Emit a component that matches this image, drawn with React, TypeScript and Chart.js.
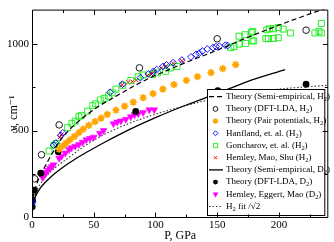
import React, { useEffect, useRef } from 'react';
import { Chart, registerables } from 'chart.js';
import { drawPoint } from 'chart.js/helpers';

Chart.register(...registerables);

const FONT = '"Liberation Serif", "DejaVu Serif", "Times New Roman", serif';

const xTickVals = [0, 50, 100, 150, 200];
const yTickVals = [0, 500, 1000];

// Theory (Semi-empirical, H2) - dashed
const semiH2P = [0, 0.5, 1, 2, 4, 7, 10, 14, 18, 22, 30, 38, 46, 55, 66, 80, 95, 110, 125, 150, 175, 200, 225, 240];
const semiH2V = [60, 95, 120, 150, 195, 245, 285, 338, 388, 435, 502, 555, 600, 645, 690, 748, 803, 850, 895, 965, 1040, 1110, 1175, 1212];

// Theory (DFT-LDA, H2) - open circles
const dftH2P = [0.5, 2.1, 7.7, 22, 87, 150, 222];
const dftH2V = [128, 221, 360, 533, 863, 1031, 1081];

// Theory (Pair potentials, H2) - stars
const pairH2P = [22, 25, 27.5, 30.7, 34.4, 38, 41.5, 46, 51, 56, 61, 68, 75, 82, 90, 98, 106, 115, 125, 134, 145, 154.5, 165];
const pairH2V = [392, 412, 428, 446, 466, 488, 508, 530, 552, 572, 594, 618, 642, 665, 690, 714, 740, 766, 790, 812, 835, 858, 882];

// Hanfland, et. al. (H2) - diamonds
const hanP = [0, 0.3, 17.5, 19.3, 23.2, 24.9, 63.2, 73.3, 87.8, 94.2, 98.4, 101, 106, 109, 114.3, 121.4, 128.7, 132.8, 135.4, 138, 142, 146.6, 149, 151.8, 156.6, 158.5];
const hanV = [78, 90, 416, 428, 472, 487, 722, 768, 806, 828, 843, 853, 871, 880, 893, 908, 926, 941, 948, 960, 972, 980, 986, 988, 994, 992];

// Goncharov, et. al. (H2) - squares
const goncP = [13.8, 17.7, 19.6, 28.8, 32.3, 35, 38, 40, 45, 49.2, 51.5, 55.3, 58.5, 62, 65, 68, 73.5, 80, 86, 90, 97.6, 101.6, 108.2, 112, 117.5,
  161, 163.7, 167.7, 173, 178.3, 179.6, 189.4, 191.5, 195.5, 199.5, 167.7, 172.5, 177.8, 178.8, 190.2, 192.3, 195.5, 199.5, 203.4, 209.3, 229.1, 232.5, 234.4, 234.4];
const goncV = [382, 415, 425, 517, 542, 555, 580, 588, 612, 644, 655, 677, 686, 700, 718, 740, 762, 790, 812, 822, 825, 834, 843, 862, 871,
  980, 987, 1000, 1004, 1019, 1019, 1032, 1032, 1033, 1037, 1046, 1055, 1068, 1074, 1083, 1089, 1089, 1096, 1087, 1065, 1065, 1074, 1065, 1120];

// Hemley, Mao, Shu (H2) - crosses
const hmsP = [22.5, 24, 73, 77.8, 81.2, 84.4, 93.7, 96.3, 98.9, 104.8, 108.2, 114.3, 121.4];
const hmsV = [462, 478, 765, 779, 784, 792, 820, 828, 839, 862, 871, 889, 904];

// Theory (Semi-empirical, D2) - solid
const semiD2P = [0, 0.5, 1, 2, 4, 7, 10, 15, 20, 30, 40, 50, 60, 80, 100, 125, 150, 175, 205];
const semiD2V = [35, 60, 80, 105, 135, 170, 195, 230, 260, 312, 357, 398, 437, 510, 575, 648, 715, 785, 853];

// Theory (DFT-LDA, D2) - filled circles
const dftD2P = [0.2, 0.5, 1.9, 7.1, 21.2, 84, 150.5, 222];
const dftD2V = [59, 96, 155, 253, 377, 611, 731, 768];

// Hemley, Eggert, Mao (D2) - triangles
const hemP = [8.5, 10, 11.5, 13, 14.5, 16, 17.5, 22, 24, 27, 30, 32, 35, 38, 41, 44, 47, 50, 55, 58, 66, 69, 72, 76, 80, 83, 86, 90, 95, 99];
const hemV = [228, 245, 258, 270, 282, 292, 302, 340, 352, 370, 390, 400, 410, 420, 432, 447, 455, 462, 484, 500, 540, 550, 556, 565, 580, 592, 598, 604, 620, 620];

// H2 fit / sqrt2 - dotted
const fitP = [0, 0.5, 1, 2, 3, 6, 10, 15, 20, 30, 40, 50, 60, 80, 100, 125, 150, 175, 200, 220, 240];
const fitV = [45, 80, 100, 125, 143, 182, 222, 262, 292, 345, 398, 443, 483, 545, 595, 645, 688, 718, 740, 752, 762];

const labels = [
  'Theory (Semi-empirical, H₂)',
  'Theory (DFT-LDA, H₂)',
  'Theory (Pair potentials, H₂)',
  'Hanfland, et. al. (H₂)',
  'Goncharov, et. al. (H₂)',
  'Hemley, Mao, Shu (H₂)',
  'Theory (Semi-empirical, D₂)',
  'Theory (DFT-LDA, D₂)',
  'Hemley, Eggert, Mao (D₂)',
  'H₂ fit /√2',
];

const pts = (xs: number[], ys: number[]) => xs.map((x, i) => ({ x, y: ys[i] }));

function drawRich(ctx: CanvasRenderingContext2D, text: string, x: number, y: number, size: number) {
  let cx = x;
  const parts = text.split(/(₂)/);
  for (const p of parts) {
    if (!p) continue;
    if (p === '₂') {
      ctx.font = `${size * 0.72}px ${FONT}`;
      ctx.fillText('2', cx, y + size * 0.3);
      cx += ctx.measureText('2').width;
    } else {
      ctx.font = `${size}px ${FONT}`;
      ctx.fillText(p, cx, y);
      cx += ctx.measureText(p).width;
    }
  }
}

const legendPlugin = {
  id: 'insideLegend',
  afterDraw(chart: any) {
    const { ctx, chartArea: a } = chart;
    const x0 = 207;
    const y0 = 89;
    const x1 = a.right - 3;
    const y1 = a.bottom - 1;
    ctx.save();
    ctx.fillStyle = '#fff';
    ctx.fillRect(x0, y0, x1 - x0, y1 - y0);
    ctx.strokeStyle = '#000';
    ctx.lineWidth = 1;
    ctx.setLineDash([]);
    ctx.strokeRect(x0 + 0.5, y0 + 0.5, x1 - x0 - 1, y1 - y0 - 1);
    chart.data.datasets.forEach((ds: any, i: number) => {
      const cy = 96.7 + i * 12.2;
      if (ds.showLine) {
        ctx.save();
        ctx.strokeStyle = ds.borderColor;
        ctx.lineWidth = ds.borderWidth;
        ctx.setLineDash(ds.borderDash || []);
        ctx.beginPath();
        ctx.moveTo(209, cy);
        ctx.lineTo(223, cy);
        ctx.stroke();
        ctx.restore();
      } else {
        ctx.save();
        ctx.setLineDash([]);
        ctx.fillStyle = ds.pointBackgroundColor;
        ctx.strokeStyle = ds.pointBorderColor;
        ctx.lineWidth = ds.pointBorderWidth;
        drawPoint(ctx, {
          pointStyle: ds.pointStyle,
          rotation: ds.pointRotation || 0,
          radius: ds.pointRadius * 0.72,
          borderWidth: ds.pointBorderWidth,
        }, 215.5, cy);
        ctx.restore();
      }
      ctx.fillStyle = '#000';
      ctx.textBaseline = 'middle';
      ctx.textAlign = 'left';
      drawRich(ctx, ds.label, 226, cy, 9);
    });
    ctx.restore();
  },
};

const frameTicks = {
  id: 'frameTicks',
  afterDraw(chart: any) {
    const { ctx, chartArea: a, scales } = chart;
    const xs = scales.x;
    const ys = scales.y;
    const L = a.left + 0.5;
    const R = a.right - 0.5;
    const T = a.top + 0.5;
    const B = a.bottom + 0.5;
    ctx.save();
    ctx.strokeStyle = '#000';
    ctx.lineWidth = 1;
    ctx.setLineDash([]);
    ctx.beginPath();
    ctx.moveTo(L, T); ctx.lineTo(R, T); ctx.lineTo(R, B); ctx.lineTo(L, B); ctx.closePath();
    ctx.stroke();
    ctx.beginPath();
    for (let v = 25; v < 240; v += 25) {
      const len = v % 50 === 0 ? 5 : 3;
      const px = Math.round(xs.getPixelForValue(v)) + 0.5;
      ctx.moveTo(px, B); ctx.lineTo(px, B - len);
      ctx.moveTo(px, T); ctx.lineTo(px, T + len);
    }
    for (let v = 250; v < 1200; v += 250) {
      const len = v % 500 === 0 ? 5 : 3;
      const py = Math.round(ys.getPixelForValue(v)) + 0.5;
      ctx.moveTo(L, py); ctx.lineTo(L + len, py);
      ctx.moveTo(R, py); ctx.lineTo(R - len, py);
    }
    ctx.stroke();
    ctx.restore();
  },
};

export default function App() {
  const ref = useRef<HTMLCanvasElement | null>(null);
  useEffect(() => {
    if (!ref.current) return;
    const line = (label: string, xs: number[], ys: number[], dash: number[], width: number, color = '#000') => ({
      label, data: pts(xs, ys), showLine: true, borderColor: color, borderWidth: width, borderDash: dash,
      pointRadius: 0, cubicInterpolationMode: 'monotone', fill: false,
    });
    const marks = (label: string, xs: number[], ys: number[], style: string, radius: number, border: string, bg: string, bw: number, rot = 0) => ({
      label, data: pts(xs, ys), showLine: false, pointStyle: style, pointRadius: radius, pointRotation: rot,
      pointBorderColor: border, pointBackgroundColor: bg, pointBorderWidth: bw,
      borderColor: border, backgroundColor: bg,
    });
    const datasets: any[] = [
      line(labels[0], semiH2P, semiH2V, [5, 3], 1.2),
      marks(labels[1], dftH2P, dftH2V, 'circle', 3.3, '#000', 'rgba(0,0,0,0)', 0.9),
      marks(labels[2], pairH2P, pairH2V, 'star', 3.6, '#ffa500', '#ffa500', 1.7),
      marks(labels[3], hanP, hanV, 'rectRot', 3.4, '#0000ff', 'rgba(0,0,0,0)', 0.9),
      marks(labels[4], goncP, goncV, 'rect', 4.2, '#11ee11', 'rgba(0,0,0,0)', 0.9),
      marks(labels[5], hmsP, hmsV, 'crossRot', 3, '#ff0000', '#ff0000', 1),
      line(labels[6], semiD2P, semiD2V, [], 1.3),
      marks(labels[7], dftD2P, dftD2V, 'circle', 3.4, '#000', '#000', 0),
      marks(labels[8], hemP, hemV, 'triangle', 4, '#ff00ff', '#ff00ff', 0.5, 180),
      line(labels[9], fitP, fitV, [1.5, 2], 1.1, '#333'),
    ];
    const chart = new Chart(ref.current, {
      type: 'scatter',
      data: { datasets },
      options: {
        responsive: false,
        animation: false,
        devicePixelRatio: 1,
        layout: { padding: { top: 0, right: 1, left: 0, bottom: 0 } },
        plugins: { legend: { display: false }, tooltip: { enabled: false } },
        scales: {
          x: {
            type: 'linear', min: 0, max: 240,
            afterFit: (s: any) => { s.height = 25; },
            afterBuildTicks: (s: any) => { s.ticks = xTickVals.map((value) => ({ value })); },
            grid: { display: false, drawTicks: false },
            border: { display: false },
            ticks: { padding: 2, color: '#000', font: { family: FONT, size: 11 }, maxRotation: 0, autoSkip: false, callback: (v: any) => String(v) },
            title: { display: true, text: 'P, GPa', color: '#000', font: { family: FONT, size: 12, lineHeight: 1 }, padding: 0 },
          },
          y: {
            type: 'linear', min: 0, max: 1200,
            afterFit: (s: any) => { s.width = 32; },
            afterBuildTicks: (s: any) => { s.ticks = yTickVals.map((value) => ({ value })); },
            grid: { display: false, drawTicks: false },
            border: { display: false },
            ticks: { padding: 3, color: '#000', font: { family: FONT, size: 11 }, autoSkip: false, callback: (v: any) => String(v) },
            title: { display: true, text: 'ν, cm⁻¹', color: '#000', font: { family: FONT, size: 12, lineHeight: 1 }, padding: { top: 8, bottom: 0 } },
          },
        },
      } as any,
      plugins: [legendPlugin, frameTicks],
    });
    return () => chart.destroy();
  }, []);
  return (
    <div style={{ position: 'fixed', left: 0, top: 0, width: 334, height: 242, background: '#fff' }}>
      <canvas ref={ref} width={334} height={242} style={{ display: 'block', width: 334, height: 242 }} />
    </div>
  );
}
